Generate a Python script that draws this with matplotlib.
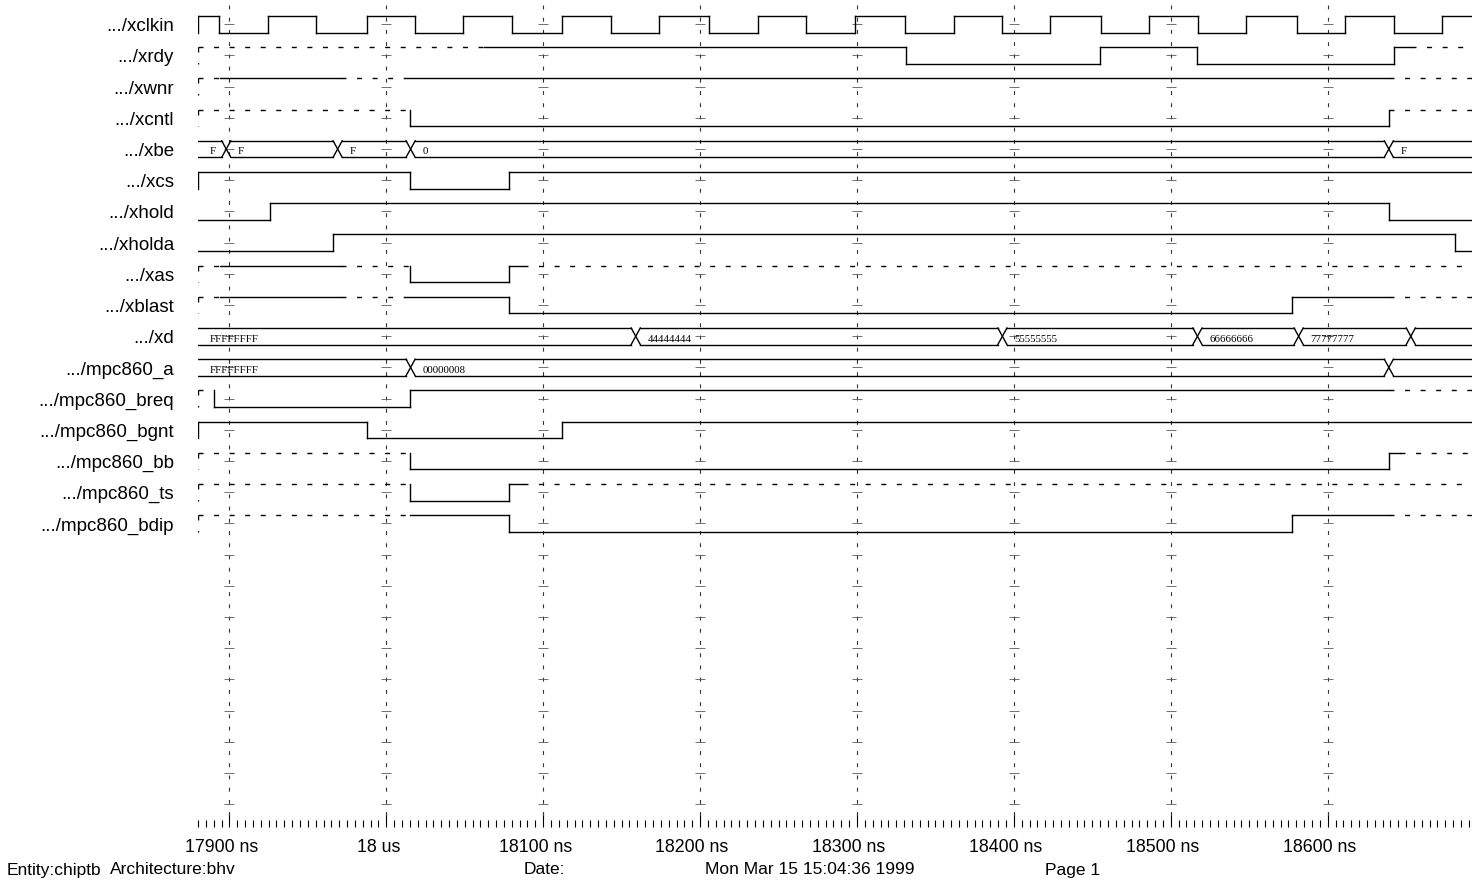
import matplotlib
matplotlib.use('Agg')
import matplotlib.pyplot as plt
import matplotlib.transforms as mtransforms
from matplotlib.ticker import MultipleLocator

plt.rcParams['font.family'] = ['Liberation Sans', 'DejaVu Sans']

# time window (ns)
T0, T1 = 17880, 18692

signal_names = ['xclkin', 'xrdy', 'xwnr', 'xcntl', 'xbe', 'xcs', 'xhold', 'xholda',
                'xas', 'xblast', 'xd', 'mpc860_a', 'mpc860_breq', 'mpc860_bgnt',
                'mpc860_bb', 'mpc860_ts', 'mpc860_bdip']

# clock edges
clk_fall = [17893.6, 17955.4, 18018.5, 18080.1, 18143.1, 18205.9, 18267.7,
            18330.8, 18392.5, 18455.4, 18517.4, 18580.3, 18642.0]
clk_rise = [17924.4, 17987.5, 18049.2, 18112.1, 18173.7, 18236.8, 18298.5,
            18361.6, 18423.1, 18486.4, 18547.9, 18611.0, 18672.6]

xrdy = [(17880, 'Z'), (18062, '1'), (18331, '0'), (18455, '1'), (18517, '0'),
        (18642, '1'), (18653, 'Z')]
xwnr = [(17880, 'Z'), (17894, '1'), (17971, 'Z'), (18012, '1'), (18639, 'Z')]
xcntl = [(17880, 'Z'), (18015, '0'), (18639, 'Z')]
xbe = [(17880, 'F'), (17898, 'F'), (17969, 'F'), (18015.5, '0'), (18639, 'F')]
xcs = [(17880, '1'), (18015, '0'), (18078.5, '1')]
xhold = [(17880, '0'), (17926, '1'), (18639, '0')]
xholda = [(17880, '0'), (17966, '1'), (18681, '0')]
xas = [(17880, 'Z'), (17894, '1'), (17971, 'Z'), (18015, '0'), (18078.5, '1'),
       (18087, 'Z')]
xblast = [(17880, 'Z'), (17894, '1'), (17971, 'Z'), (18012, '1'), (18078.5, '0'),
          (18577, '1'), (18639, 'Z')]
xd = [(17880, 'FFFFFFFF'), (18159, '44444444'), (18392.7, '55555555'),
      (18517, '66666666'), (18581.5, '77777777'), (18653, '')]
mpc860_a = [(17880, 'FFFFFFFF'), (18015.5, '00000008'), (18639, '')]
mpc860_breq = [(17880, 'Z'), (17890, '0'), (18015, '1'), (18639, 'Z')]
mpc860_bgnt = [(17880, '1'), (17987.5, '0'), (18112, '1')]
mpc860_bb = [(17880, 'Z'), (18015, '0'), (18639, '1'), (18646, 'Z')]
mpc860_ts = [(17880, 'Z'), (18015, '0'), (18078.5, '1'), (18087, 'Z')]
mpc860_bdip = [(17880, 'Z'), (18015, '1'), (18078.5, '0'), (18577, '1'), (18639, 'Z')]

tick_pos = [17900, 18000, 18100, 18200, 18300, 18400, 18500, 18600]
tick_labels = ['17900 ns', '18 us', '18100 ns', '18200 ns', '18300 ns',
               '18400 ns', '18500 ns', '18600 ns']

# clock as transitions
edges = sorted([(t, '0') for t in clk_fall] + [(t, '1') for t in clk_rise])
xclkin = [(T0, '1')] + edges

waves = {'xclkin': xclkin, 'xrdy': xrdy, 'xwnr': xwnr, 'xcntl': xcntl,
         'xcs': xcs, 'xhold': xhold, 'xholda': xholda, 'xas': xas,
         'xblast': xblast, 'mpc860_breq': mpc860_breq, 'mpc860_bgnt': mpc860_bgnt,
         'mpc860_bb': mpc860_bb, 'mpc860_ts': mpc860_ts, 'mpc860_bdip': mpc860_bdip}
buses = {'xbe': xbe, 'xd': xd, 'mpc860_a': mpc860_a}

PITCH = 31.2   # px per row
AMP = 16.5 / PITCH
DASH = (0, (3.6, 7.6))
LW = 1.0
N_ROWS = 26

W, H = 1479, 890
fig = plt.figure(figsize=(W / 100, H / 100), dpi=100)
ax = fig.add_axes([198 / W, 1 - 827 / H, (1472 - 198) / W, 827 / H])
ax.set_xlim(T0, T1)
ax.set_ylim((827 - 16) / PITCH, -16 / PITCH)


def draw_bit(row, changes):
    hi, lo = row, row + AMP
    prev = lo
    for k, (t, s) in enumerate(changes):
        t_end = changes[k + 1][0] if k + 1 < len(changes) else T1
        y = lo if s == '0' else hi
        ls = '-' if s in '01' else DASH
        vls = ls if k == 0 else '-'
        ax.plot([t, t], [y, prev], color='black', lw=LW, ls=vls)
        ax.plot([t, t_end], [y, y], color='black', lw=LW, ls=ls)
        prev = y


def draw_bus(row, changes, hw=2.9):
    hi, lo = row, row + AMP
    for k, (t, lab) in enumerate(changes):
        t_start = t if k == 0 else t + hw
        t_end = changes[k + 1][0] - hw if k + 1 < len(changes) else T1
        ax.plot([t_start, t_end], [hi, hi], color='black', lw=LW)
        ax.plot([t_start, t_end], [lo, lo], color='black', lw=LW)
        if k > 0:
            ax.plot([t - hw, t + hw], [hi, lo], color='black', lw=LW)
            ax.plot([t - hw, t + hw], [lo, hi], color='black', lw=LW)
        if lab:
            ax.text(t + 7.5, lo - 0.03, lab, fontsize=7.8, family='Liberation Serif',
                    ha='left', va='bottom', color='black')


# grid lines with row marks
for t in tick_pos:
    ax.plot([t, t], [-0.35, 25.8], color='0.2', lw=0.8, ls=(0, (3.5, 7.5)))
    ax.plot([t] * N_ROWS, [r + AMP / 2 for r in range(N_ROWS)], ls='none',
            marker='_', ms=7, mew=0.6, color='0.35')

label_tf = mtransforms.blended_transform_factory(fig.transFigure, ax.transData)
for row, name in enumerate(signal_names):
    if name in buses:
        draw_bus(row, buses[name])
    else:
        draw_bit(row, waves[name])
    ax.text(174 / W, row + AMP / 2 + 0.08, '.../' + name, transform=label_tf,
            ha='right', va='center', fontsize=13.5)

for sp in ax.spines.values():
    sp.set_visible(False)
ax.set_yticks([])
ax.set_xticks(tick_pos, tick_labels)
ax.xaxis.set_minor_locator(MultipleLocator(5))
ax.tick_params(axis='x', which='major', direction='in', length=10.5, width=0.8,
               pad=9, labelsize=12.8)
ax.tick_params(axis='x', which='minor', direction='in', length=5, width=0.8)
shift = mtransforms.ScaledTranslation(-8 / 100, 0, fig.dpi_scale_trans)
for lab in ax.get_xticklabels():
    lab.set_transform(lab.get_transform() + shift)

fy = 1 - 870 / H
fig.text(7 / W, fy, 'Entity:chiptb', fontsize=12.5, va='center')
fig.text(110 / W, fy, 'Architecture:bhv', fontsize=12.5, va='center')
fig.text(524 / W, fy, 'Date:', fontsize=12.5, va='center')
fig.text(705 / W, fy, 'Mon Mar 15 15:04:36 1999', fontsize=12.5, va='center')
fig.text(1045 / W, fy, 'Page 1', fontsize=12.5, va='center')

fig.savefig('out.png', dpi=100)
